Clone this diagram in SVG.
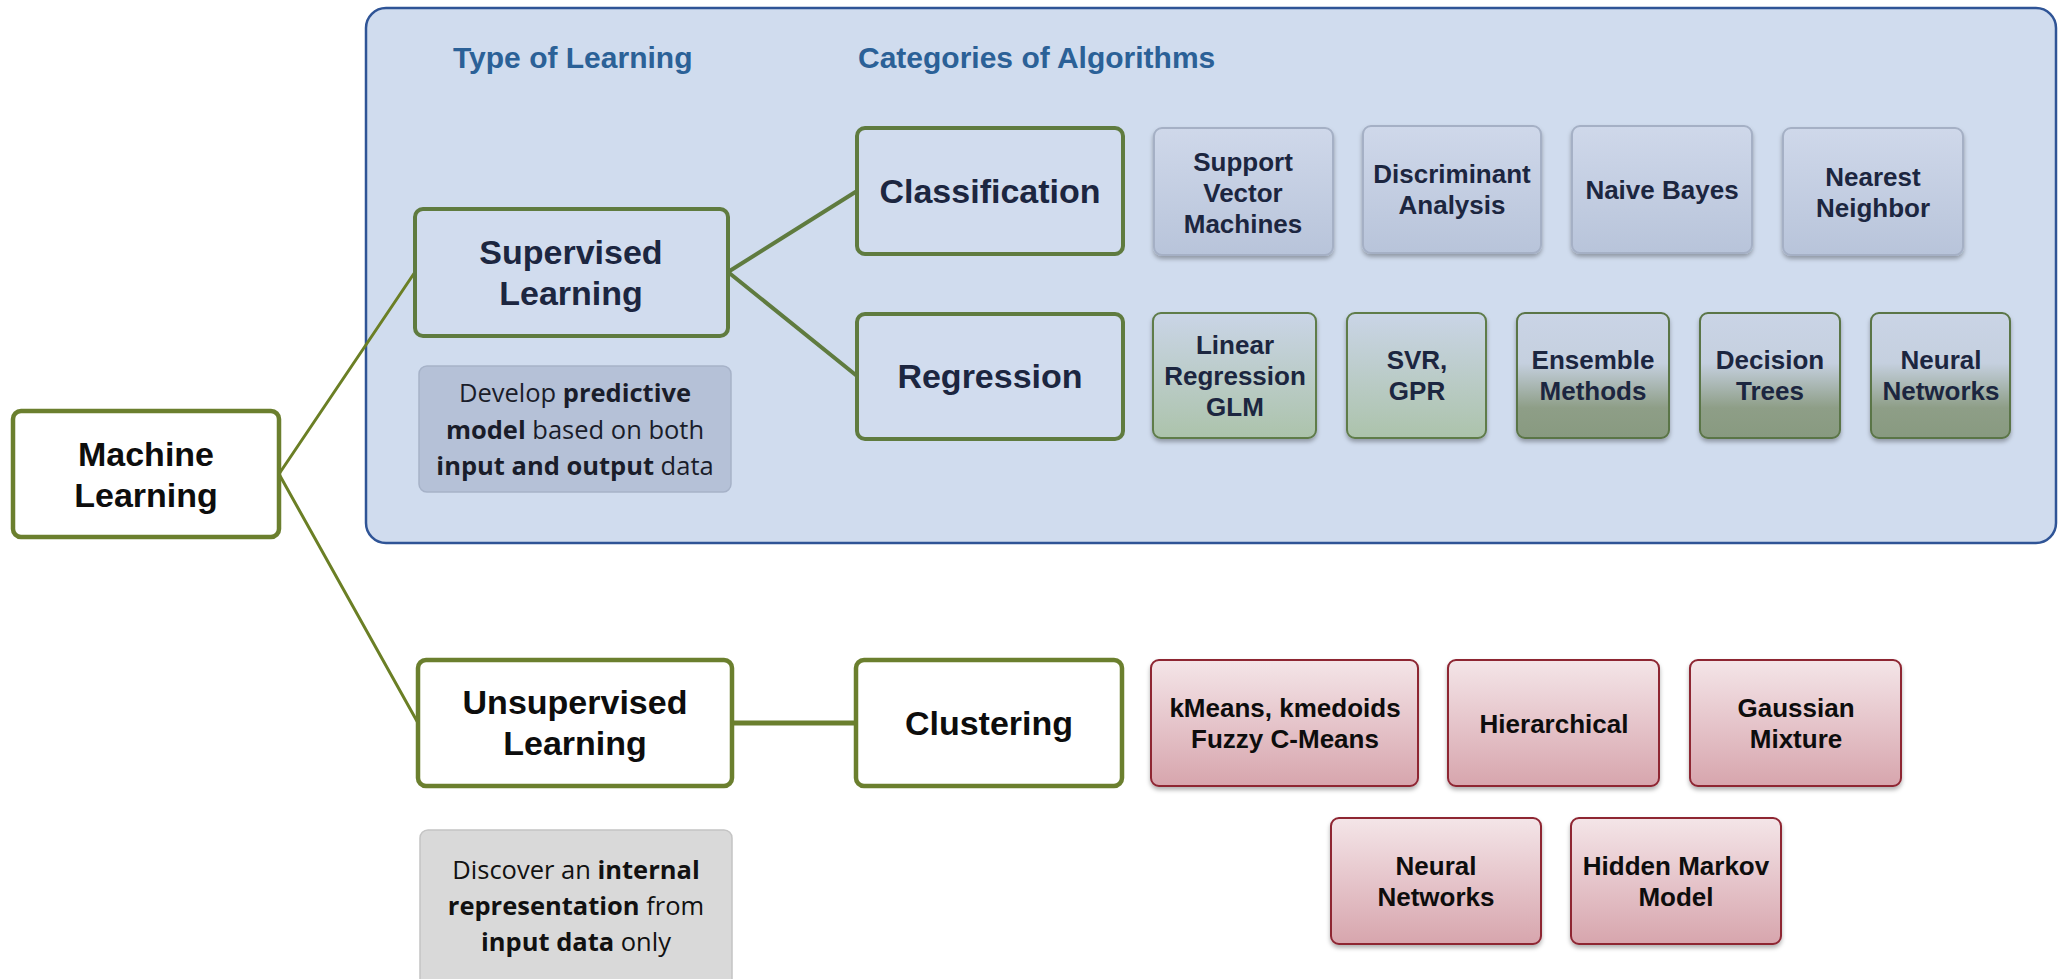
<svg xmlns="http://www.w3.org/2000/svg" width="2059" height="979" viewBox="0 0 2059 979">
  <style>
    .hdr { font-family: "Liberation Sans", Arial, sans-serif; font-weight: bold; font-size: 30px; fill: #2b6197; }
    .main { font-family: "Liberation Sans", Arial, sans-serif; font-weight: bold; font-size: 34px; text-anchor: middle; }
    .alg { font-family: "Liberation Sans", Arial, sans-serif; font-weight: bold; font-size: 26px; text-anchor: middle; }
    .note { font-family: "Open Sans", "Noto Sans", sans-serif; font-size: 25.5px; text-anchor: middle; }
    .note .b { font-weight: bold; }
    .navy { fill: #1c2640; }
    .black { fill: #0d0d0d; }
    .olive { fill: #ffffff; stroke: #6b7f2e; stroke-width: 4.5; }
    .sage { fill: #d1dcee; stroke: #5f7b3f; stroke-width: 4; }
    .cls { fill: url(#gBlue); stroke: #a5b0c5; stroke-width: 2; filter: url(#shadow); }
    .regL { fill: url(#gPale); stroke: #5e7b4a; stroke-width: 2; filter: url(#shadow); }
    .regD { fill: url(#gDeep); stroke: #5a7446; stroke-width: 2; filter: url(#shadow); }
    .clu { fill: url(#gRose); stroke: #8e2533; stroke-width: 2; filter: url(#shadow); }
  </style>
  <defs>
    <linearGradient id="gBlue" x1="0" y1="0" x2="0" y2="1">
      <stop offset="0" stop-color="#cfd8ea"/>
      <stop offset="1" stop-color="#b8c4da"/>
    </linearGradient>
    <linearGradient id="gPale" x1="0" y1="0" x2="0" y2="1">
      <stop offset="0" stop-color="#cad5e7"/>
      <stop offset="1" stop-color="#acc3ab"/>
    </linearGradient>
    <linearGradient id="gDeep" x1="0" y1="0" x2="0" y2="1">
      <stop offset="0" stop-color="#cad4e6"/>
      <stop offset="0.4" stop-color="#c5d0df"/>
      <stop offset="0.76" stop-color="#8e9e87"/>
      <stop offset="1" stop-color="#889a80"/>
    </linearGradient>
    <linearGradient id="gRose" x1="0" y1="0" x2="0" y2="1">
      <stop offset="0" stop-color="#f4e5e8"/>
      <stop offset="1" stop-color="#d7a5ad"/>
    </linearGradient>
    <filter id="shadow" x="-10%" y="-10%" width="120%" height="130%">
      <feDropShadow dx="0" dy="3" stdDeviation="2" flood-color="#000" flood-opacity="0.3"/>
    </filter>
  </defs>

  <rect width="2059" height="979" fill="#ffffff"/>

  <!-- supervised panel -->
  <g id="panel">
    <rect x="366" y="8" width="1690" height="535" rx="20" fill="#d0dcee" stroke="#2f5496" stroke-width="2.5"/>
    <text class="hdr" x="453" y="68">Type of Learning</text>
    <text class="hdr" x="858" y="68">Categories of Algorithms</text>
  </g>

  <!-- connectors -->
  <g id="connectors" fill="none" stroke-linecap="round">
    <line x1="279" y1="474" x2="415" y2="272" stroke="#6b7f25" stroke-width="3"/>
    <line x1="279" y1="474" x2="418" y2="723" stroke="#6b7f25" stroke-width="3"/>
    <line x1="728" y1="272" x2="857" y2="191" stroke="#5f7b3f" stroke-width="4"/>
    <line x1="728" y1="272" x2="857" y2="376" stroke="#5f7b3f" stroke-width="4"/>
    <line x1="732" y1="723" x2="856" y2="723" stroke="#6b7f2e" stroke-width="5"/>
  </g>

  <!-- learning types -->
  <g id="machine-learning">
    <rect class="olive" x="13" y="411" width="266" height="126" rx="8"/>
    <text class="main black" x="146" y="466">Machine</text>
    <text class="main black" x="146" y="507">Learning</text>
  </g>
  <g id="supervised">
    <rect class="sage" x="415" y="209" width="313" height="127" rx="8"/>
    <text class="main navy" x="571" y="264">Supervised</text>
    <text class="main navy" x="571" y="305">Learning</text>
  </g>
  <g id="supervised-note">
    <rect x="419" y="366" width="312" height="126" rx="8" fill="#b5c1d7" stroke="#a6b2c8" stroke-width="1.5"/>
    <text class="note" x="575" y="402" fill="#1a1d2a">Develop <tspan class="b">predictive</tspan></text>
    <text class="note" x="575" y="439" fill="#1a1d2a"><tspan class="b">model</tspan> based on both</text>
    <text class="note" x="575" y="475" fill="#1a1d2a"><tspan class="b">input and output</tspan> data</text>
  </g>
  <g id="unsupervised">
    <rect class="olive" x="418" y="660" width="314" height="126" rx="8"/>
    <text class="main black" x="575" y="714">Unsupervised</text>
    <text class="main black" x="575" y="755">Learning</text>
  </g>
  <g id="unsupervised-note">
    <rect x="420" y="830" width="312" height="170" rx="8" fill="#d9d9d9" stroke="#c4c4c4" stroke-width="1.5"/>
    <text class="note" x="576" y="879" fill="#111">Discover an <tspan class="b">internal</tspan></text>
    <text class="note" x="576" y="915" fill="#111"><tspan class="b">representation</tspan> from</text>
    <text class="note" x="576" y="951" fill="#111"><tspan class="b">input data</tspan> only</text>
  </g>

  <!-- categories -->
  <g id="classification">
    <rect class="sage" x="857" y="128" width="266" height="126" rx="8"/>
    <text class="main navy" x="990" y="203">Classification</text>
  </g>
  <g id="regression">
    <rect class="sage" x="857" y="314" width="266" height="125" rx="8"/>
    <text class="main navy" x="990" y="388">Regression</text>
  </g>
  <g id="clustering">
    <rect class="olive" x="856" y="660" width="266" height="126" rx="8"/>
    <text class="main black" x="989" y="735">Clustering</text>
  </g>

  <!-- classification algorithms -->
  <g id="svm">
    <rect class="cls" x="1154" y="128" width="179" height="127" rx="8"/>
    <text class="alg navy" x="1243" y="171">Support</text>
    <text class="alg navy" x="1243" y="202">Vector</text>
    <text class="alg navy" x="1243" y="233">Machines</text>
  </g>
  <g id="discriminant">
    <rect class="cls" x="1363" y="126" width="178" height="127" rx="8"/>
    <text class="alg navy" x="1452" y="183">Discriminant</text>
    <text class="alg navy" x="1452" y="214">Analysis</text>
  </g>
  <g id="naive-bayes">
    <rect class="cls" x="1572" y="126" width="180" height="127" rx="8"/>
    <text class="alg navy" x="1662" y="199">Naive Bayes</text>
  </g>
  <g id="nearest-neighbor">
    <rect class="cls" x="1783" y="128" width="180" height="127" rx="8"/>
    <text class="alg navy" x="1873" y="186">Nearest</text>
    <text class="alg navy" x="1873" y="217">Neighbor</text>
  </g>

  <!-- regression algorithms -->
  <g id="linear-regression">
    <rect class="regL" x="1153" y="313" width="163" height="125" rx="8"/>
    <text class="alg navy" x="1235" y="354">Linear</text>
    <text class="alg navy" x="1235" y="385">Regression</text>
    <text class="alg navy" x="1235" y="416">GLM</text>
  </g>
  <g id="svr-gpr">
    <rect class="regL" x="1347" y="313" width="139" height="125" rx="8"/>
    <text class="alg navy" x="1417" y="369">SVR,</text>
    <text class="alg navy" x="1417" y="400">GPR</text>
  </g>
  <g id="ensemble">
    <rect class="regD" x="1517" y="313" width="152" height="125" rx="8"/>
    <text class="alg navy" x="1593" y="369">Ensemble</text>
    <text class="alg navy" x="1593" y="400">Methods</text>
  </g>
  <g id="decision-trees">
    <rect class="regD" x="1700" y="313" width="140" height="125" rx="8"/>
    <text class="alg navy" x="1770" y="369">Decision</text>
    <text class="alg navy" x="1770" y="400">Trees</text>
  </g>
  <g id="neural-regression">
    <rect class="regD" x="1871" y="313" width="139" height="125" rx="8"/>
    <text class="alg navy" x="1941" y="369">Neural</text>
    <text class="alg navy" x="1941" y="400">Networks</text>
  </g>

  <!-- clustering algorithms -->
  <g id="kmeans">
    <rect class="clu" x="1151" y="660" width="267" height="126" rx="8"/>
    <text class="alg black" x="1285" y="717">kMeans, kmedoids</text>
    <text class="alg black" x="1285" y="748">Fuzzy C-Means</text>
  </g>
  <g id="hierarchical">
    <rect class="clu" x="1448" y="660" width="211" height="126" rx="8"/>
    <text class="alg black" x="1554" y="733">Hierarchical</text>
  </g>
  <g id="gaussian">
    <rect class="clu" x="1690" y="660" width="211" height="126" rx="8"/>
    <text class="alg black" x="1796" y="717">Gaussian</text>
    <text class="alg black" x="1796" y="748">Mixture</text>
  </g>
  <g id="neural-clustering">
    <rect class="clu" x="1331" y="818" width="210" height="126" rx="8"/>
    <text class="alg black" x="1436" y="875">Neural</text>
    <text class="alg black" x="1436" y="906">Networks</text>
  </g>
  <g id="hidden-markov">
    <rect class="clu" x="1571" y="818" width="210" height="126" rx="8"/>
    <text class="alg black" x="1676" y="875">Hidden Markov</text>
    <text class="alg black" x="1676" y="906">Model</text>
  </g>
</svg>
